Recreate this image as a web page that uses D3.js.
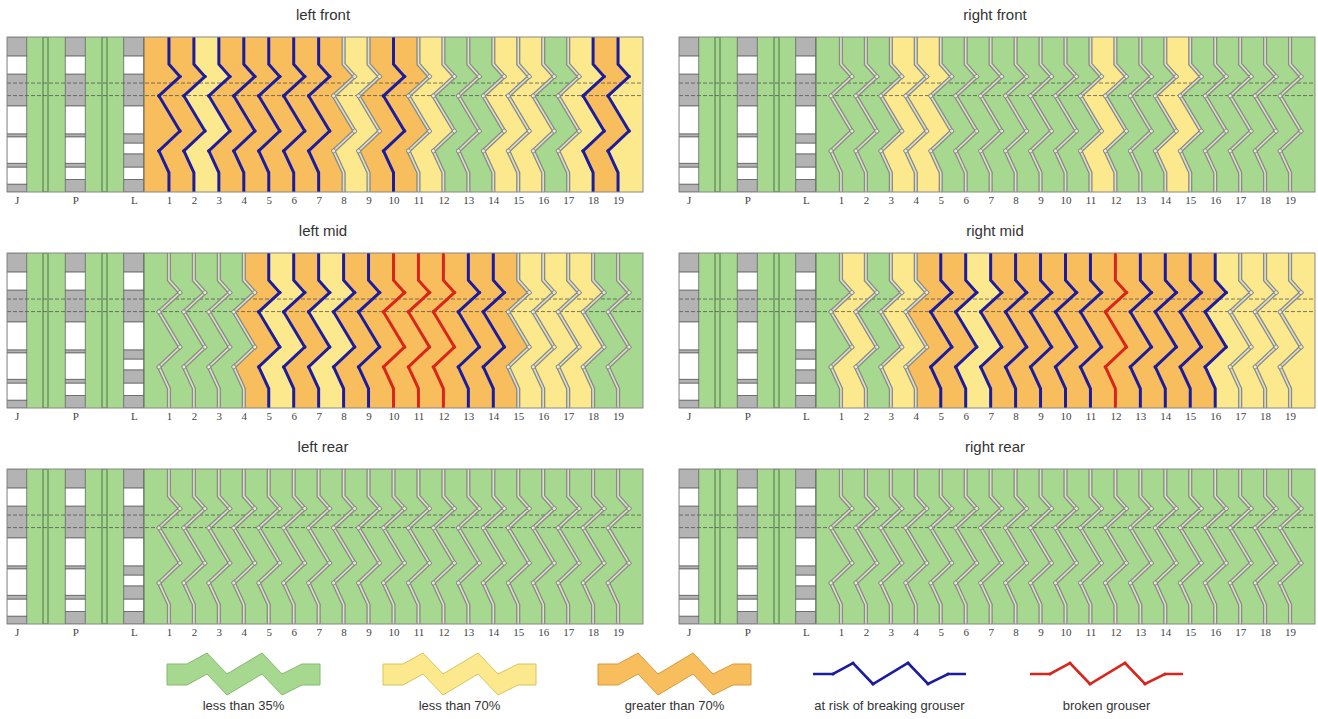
<!DOCTYPE html>
<html><head><meta charset="utf-8">
<script src="https://cdn.jsdelivr.net/npm/d3@7"></script>
<style>html,body{margin:0;padding:0;background:#fff;}svg{display:block;}</style>
</head><body>
<script>
// ---------- data ----------
const panelTitles = ["left front","right front","left mid","right mid","left rear","right rear"];
const sectionLabels = ["J","P","L"];
const grouserLabels = ["1","2","3","4","5","6","7","8","9","10","11","12","13","14","15","16","17","18","19"];
// wear level per band between grousers (0: <35%, 1: <70%, 2: >70%)
const wearLeftFront  = [2,2,1,2,2,2,2,2,1,2,2,1,0,0,1,1,0,1,2,1];
const wearRightFront = [0,0,0,1,1,0,0,0,0,0,0,1,0,0,1,0,0,0,0,0];
const wearLeftMid    = [0,0,0,0,2,1,2,1,2,2,2,2,2,2,2,1,1,1,0,0];
const wearRightMid   = [0,1,0,1,2,2,1,2,2,2,2,2,2,2,2,2,1,1,1,1];
const wearLeftRear   = [0,0,0,0,0,0,0,0,0,0,0,0,0,0,0,0,0,0,0,0];
const wearRightRear  = [0,0,0,0,0,0,0,0,0,0,0,0,0,0,0,0,0,0,0,0];
// grouser status (0: ok, 1: at risk, 2: broken)
const statusLeftFront  = [1,1,1,1,1,1,1,0,0,1,0,0,0,0,0,0,0,1,1];
const statusRightFront = [0,0,0,0,0,0,0,0,0,0,0,0,0,0,0,0,0,0,0];
const statusLeftMid    = [0,0,0,0,1,1,1,1,1,2,2,2,1,1,0,0,0,0,0];
const statusRightMid   = [0,0,0,0,1,1,1,1,1,1,1,2,1,1,1,1,0,0,0];
const statusLeftRear   = [0,0,0,0,0,0,0,0,0,0,0,0,0,0,0,0,0,0,0];
const statusRightRear  = [0,0,0,0,0,0,0,0,0,0,0,0,0,0,0,0,0,0,0];
// J / P / L column blocks: [start, end, filled]
const blocksJ = [[0,0.123,1],[0.123,0.24,0],[0.24,0.445,1],[0.445,0.626,0],[0.626,0.645,1],[0.645,0.815,0],[0.815,0.84,1],[0.84,0.95,0],[0.95,1,1]];
const blocksP = [[0,0.123,1],[0.123,0.24,0],[0.24,0.445,1],[0.445,0.626,0],[0.626,0.645,1],[0.645,0.815,0],[0.815,0.84,1],[0.84,0.92,0],[0.92,1,1]];
const blocksL = [[0,0.123,1],[0.123,0.24,0],[0.24,0.445,1],[0.445,0.626,0],[0.626,0.685,1],[0.685,0.755,0],[0.755,0.84,1],[0.84,0.92,0],[0.92,1,1]];
const legendLabels = ["less than 35%","less than 70%","greater than 70%","at risk of breaking grouser","broken grouser"];

const wearSets = [wearLeftFront, wearRightFront, wearLeftMid, wearRightMid, wearLeftRear, wearRightRear];
const statusSets = [statusLeftFront, statusRightFront, statusLeftMid, statusRightMid, statusLeftRear, statusRightRear];

// ---------- styles ----------
const wearColor = ["#a6d98f","#fde98d","#f8bd5c"];
const wearStroke = ["#86b870","#d8c35e","#d79a3c"];
const lineColor = [null,"#1c1ca0","#d8261c"];
const W = 1318, H = 719;
const PW = 636, PH = 155;
const colX = [7, 679];
const rowY = [37, 253, 469];

const svg = d3.select("body").append("svg").attr("width", W).attr("height", H);

// zigzag geometry (x offset px, y fraction)
const zigDx = [0,0,11,-10,11,-10,0,0];
const zigDy = [0,0.175,0.255,0.38,0.607,0.735,0.875,1];

const y = d3.scaleLinear().domain([0,1]).range([0,PH]);
const xZ = d3.scaleLinear().domain([0,20]).range([137, PW]);
const xSec = d3.scaleOrdinal(sectionLabels, [9.75, 68.25, 126.75]);

function zigPts(i, straight) {
  const x0 = xZ(i);
  if (straight) return [[x0, y(0)], [x0, y(1)]];
  return zigDx.map((dx, k) => [x0 + dx, y(zigDy[k])]);
}

panelTitles.forEach((title, p) => {
  const x0 = colX[p % 2], y0 = rowY[Math.floor(p / 2)];
  const g = svg.append("g").attr("transform", `translate(${x0},${y0})`);
  const wear = wearSets[p], status = statusSets[p];

  svg.append("text").attr("x", x0 + 316).attr("y", y0 - 17)
    .attr("text-anchor", "middle").attr("font-family", "Liberation Sans, Arial, sans-serif")
    .attr("font-size", 15).attr("fill", "#333").text(title);

  const clipId = "clip" + p;
  g.append("clipPath").attr("id", clipId).append("rect").attr("width", PW).attr("height", PH);
  const body = g.append("g").attr("clip-path", `url(#${clipId})`);

  // green background across fixed columns
  body.append("rect").attr("x", 0).attr("y", 0).attr("width", 137).attr("height", PH).attr("fill", wearColor[0]);

  // bands
  wear.forEach((w, k) => {
    const left = zigPts(k, k === 0);
    const right = zigPts(k + 1, k === 19).slice().reverse();
    body.append("path").attr("d", d3.line()(left.concat(right)) + "Z")
      .attr("fill", wearColor[w]).attr("stroke", wearColor[w]).attr("stroke-width", 0.6);
  });

  // J P L columns
  const colW = 20;
  [blocksJ, blocksP, blocksL].forEach((blocks, c) => {
    const cx = xSec(sectionLabels[c]) - colW / 2;
    blocks.forEach(b => {
      body.append("rect").attr("x", cx).attr("y", y(b[0])).attr("width", colW).attr("height", y(b[1]) - y(b[0]))
        .attr("fill", b[2] ? "#b3b3b3" : "#ffffff").attr("stroke", "#666").attr("stroke-width", 0.8);
    });
  });
  // double lines in green columns
  [36, 95].forEach(dx => {
    body.append("rect").attr("x", dx).attr("y", 0).attr("width", 5).attr("height", PH)
      .attr("fill", "none").attr("stroke", "#4f7444").attr("stroke-width", 1);
  });
  body.append("line").attr("x1", 137).attr("x2", 137).attr("y1", 0).attr("y2", PH).attr("stroke", "#666").attr("stroke-width", 0.8);

  // dashed lines
  [0.297, 0.378].forEach(f => {
    body.append("line").attr("x1", 0).attr("x2", PW).attr("y1", y(f)).attr("y2", y(f))
      .attr("stroke", "#555").attr("stroke-width", 0.8).attr("stroke-dasharray", "4,2");
  });

  // grousers
  status.forEach((s, i) => {
    const pts = zigPts(i + 1, false);
    const d = d3.line()(pts);
    if (s === 0) {
      body.append("path").attr("d", d).attr("fill", "none").attr("stroke", "#8a8c7e").attr("stroke-width", 4.2);
      body.append("path").attr("d", d).attr("fill", "none").attr("stroke", "#deded6").attr("stroke-width", 1.6);
      pts.slice(2, 6).forEach(pt => body.append("circle").attr("cx", pt[0]).attr("cy", pt[1]).attr("r", 2)
        .attr("fill", "#e8e8e2").attr("stroke", "#7d7f72").attr("stroke-width", 0.8));
    } else {
      body.append("path").attr("d", d).attr("fill", "none").attr("stroke", lineColor[s]).attr("stroke-width", 3)
        .attr("stroke-linejoin", "miter");
      pts.slice(2, 6).forEach(pt => body.append("circle").attr("cx", pt[0]).attr("cy", pt[1]).attr("r", 1.8)
        .attr("fill", lineColor[s]));
    }
  });

  // border
  g.append("rect").attr("width", PW).attr("height", PH).attr("fill", "none").attr("stroke", "#888").attr("stroke-width", 1);

  // axes
  const axNum = d3.axisBottom(xZ).tickValues(d3.range(1, 20)).tickFormat(d => grouserLabels[d - 1]).tickSize(0).tickPadding(4);
  const axSec = d3.axisBottom(xSec).tickValues(sectionLabels).tickSize(0).tickPadding(4);
  [axNum, axSec].forEach(ax => {
    const a = g.append("g").attr("transform", `translate(0,${PH})`).call(ax);
    a.select(".domain").remove();
    a.selectAll("text").attr("font-family", "Liberation Serif, Times New Roman, serif").attr("font-size", 11).attr("fill", "#444");
  });
});

// ---------- legend ----------
const legX = [167, 383, 598, 813, 1030];
const legW = 153;
const lgx = [0, 20, 40, 60, 95, 115, 135, 153];
const lgy = [0, 0, -11, 10, -11, 10, 0, 0];
const lgCenter = 674;
legendLabels.forEach((lab, i) => {
  const x0 = legX[i];
  if (i < 3) {
    const top = lgx.map((dx, k) => [x0 + dx * legW / 153, lgCenter - 10 + lgy[k]]);
    const bot = lgx.map((dx, k) => [x0 + dx * legW / 153, lgCenter + 11 + lgy[k]]).reverse();
    svg.append("path").attr("d", d3.line()(top.concat(bot)) + "Z")
      .attr("fill", wearColor[i]).attr("stroke", wearStroke[i]).attr("stroke-width", 1);
  } else {
    const s = i - 2;
    const pts = lgx.map((dx, k) => [x0 + dx, lgCenter + lgy[k]]);
    svg.append("path").attr("d", d3.line()(pts)).attr("fill", "none").attr("stroke", lineColor[s]).attr("stroke-width", 2.6);
    pts.slice(1, 7).forEach(pt => svg.append("circle").attr("cx", pt[0]).attr("cy", pt[1]).attr("r", 1.6).attr("fill", lineColor[s]));
  }
  svg.append("text").attr("x", x0 + legW / 2).attr("y", 710).attr("text-anchor", "middle")
    .attr("font-family", "Liberation Sans, Arial, sans-serif").attr("font-size", 13).attr("fill", "#333").text(lab);
});
</script>
</body></html>
